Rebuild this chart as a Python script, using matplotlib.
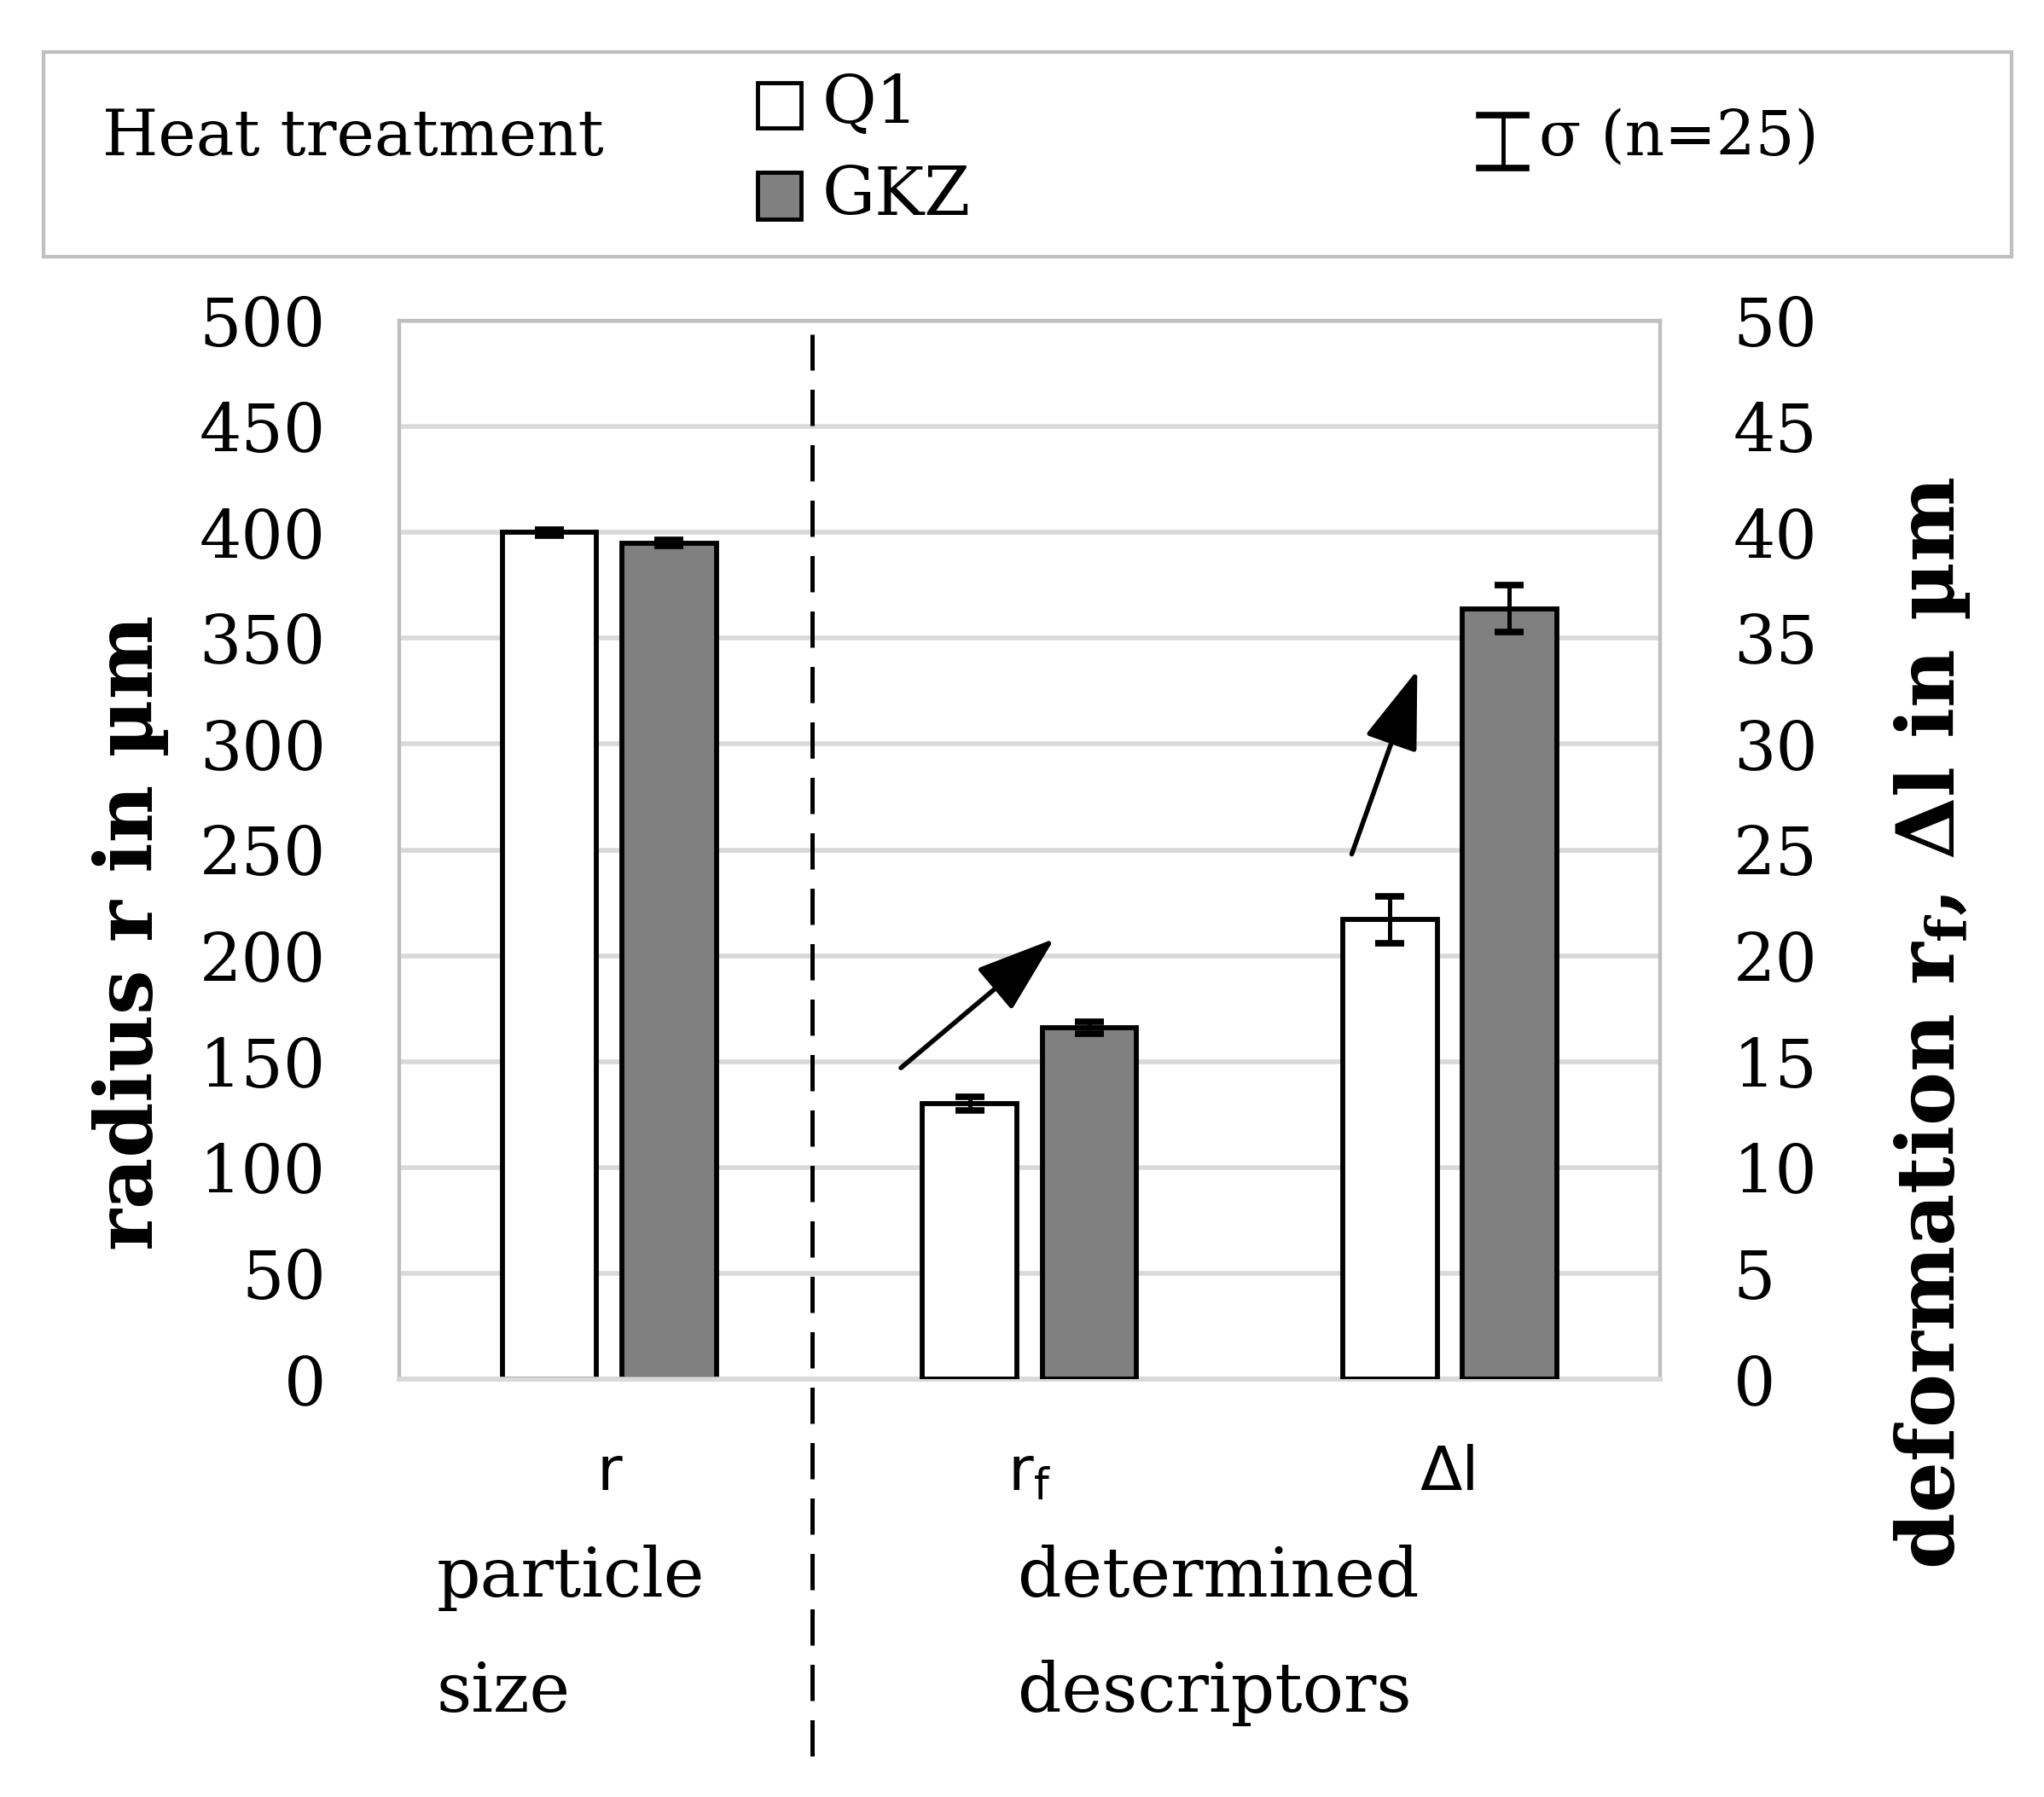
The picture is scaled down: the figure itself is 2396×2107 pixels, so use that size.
import matplotlib
matplotlib.use("Agg")
import matplotlib.pyplot as plt
from matplotlib.lines import Line2D
from matplotlib.patches import Rectangle

# values (in µm)
categories = ["r", "r$_\\mathregular{f}$", "Δl"]
series = ["Q1", "GKZ"]

# particle radius r -> left axis
r_q1, r_q1_err = 400.0, 1.5
r_gkz, r_gkz_err = 395.0, 1.5

# deformation descriptors r_f, Δl -> right axis
def_q1 = [13.0, 21.7]
def_q1_err = [0.32, 1.1]
def_gkz = [16.6, 36.4]
def_gkz_err = [0.28, 1.1]

left_ticks = list(range(0, 501, 50))
right_ticks = list(range(0, 51, 5))

SERIF = ["DejaVu Serif"]
SANS = ["DejaVu Sans"]

fig = plt.figure(figsize=(23.96, 21.07), dpi=100)
ax = fig.add_axes([0.1953, 0.2326, 0.6167, 0.5889])
ax2 = ax.twinx()

width = 0.225
off = 0.1425
x_pos = [0, 1, 2]

bar_kw = dict(edgecolor="black", linewidth=4.2, zorder=3)
err_kw = dict(fmt="none", ecolor="black", elinewidth=3.6, capsize=12.5, capthick=5.5, zorder=4)

# r on the left axis
ax.bar(x_pos[0] - off, r_q1, width, color="white", **bar_kw)
ax.bar(x_pos[0] + off, r_gkz, width, color="#808080", **bar_kw)
ax.errorbar(x_pos[0] - off, r_q1, yerr=r_q1_err, **err_kw)
ax.errorbar(x_pos[0] + off, r_gkz, yerr=r_gkz_err, **err_kw)

# r_f and Δl on the right axis
xs = x_pos[1:]
ax2.bar([x - off for x in xs], def_q1, width, color="white", **bar_kw)
ax2.bar([x + off for x in xs], def_gkz, width, color="#808080", **bar_kw)
ax2.errorbar([x - off for x in xs], def_q1, yerr=def_q1_err, **err_kw)
ax2.errorbar([x + off for x in xs], def_gkz, yerr=def_gkz_err, **err_kw)

ax.set_xlim(-0.5, 2.5)
ax.set_ylim(0, 500)
ax2.set_ylim(0, 50)
ax.set_yticks(left_ticks)
ax2.set_yticks(right_ticks)
ax.set_yticklabels([str(t) for t in left_ticks], fontfamily=SERIF, fontsize=56)
ax2.set_yticklabels([str(t) for t in right_ticks], fontfamily=SERIF, fontsize=56)
ax.set_xticks(x_pos)
ax.set_xticklabels(categories, fontfamily=SANS, fontsize=52)
ax.tick_params(axis="both", length=0)
ax2.tick_params(axis="both", length=0)
ax.tick_params(axis="y", pad=62)
ax2.tick_params(axis="y", pad=62)
ax.tick_params(axis="x", pad=55)

ax.grid(axis="y", color="#d9d9d9", linewidth=4, zorder=0)
ax.set_axisbelow(True)
for a in (ax, ax2):
    for s in a.spines.values():
        s.set_color("#bfbfbf")
        s.set_linewidth(3)
    a.spines["bottom"].set_color("#d9d9d9")
    a.spines["bottom"].set_linewidth(4)

# trend arrows
arrow_kw = dict(arrowstyle="-|>,head_length=0.58,head_width=0.2", mutation_scale=100,
                color="black", lw=4, shrinkA=0, shrinkB=0)
ax.annotate("", xy=(1.059, 208), xytext=(0.694, 147), arrowprops=arrow_kw, zorder=5)
ax.annotate("", xy=(1.923, 335), xytext=(1.767, 248), arrowprops=arrow_kw, zorder=5)

# dashed separator
fig.add_artist(Line2D([0.3974, 0.3974], [0.023, 0.814], color="black", lw=3.6,
                      dashes=(8.5, 4.5)))

# axis titles
fig.text(0.064, 0.481, "radius r in µm", rotation=90, ha="center", va="center",
         fontfamily=SERIF, fontsize=67, fontweight="bold")
fig.text(0.9455, 0.431, "deformation r$_\\mathregular{f}$, Δl in µm", rotation=90,
         ha="center", va="center", fontfamily=SERIF, fontsize=68, fontweight="bold")

# group labels
fig.text(0.2135, 0.122, "particle", ha="left", va="center", fontfamily=SERIF, fontsize=58)
fig.text(0.2135, 0.058, "size", ha="left", va="center", fontfamily=SERIF, fontsize=58)
fig.text(0.498, 0.122, "determined", ha="left", va="center", fontfamily=SERIF, fontsize=58)
fig.text(0.498, 0.058, "descriptors", ha="left", va="center", fontfamily=SERIF, fontsize=58)

# legend box
fig.add_artist(Rectangle((0.0213, 0.857), 0.9627, 0.114, transform=fig.transFigure,
                         facecolor="white", edgecolor="#bfbfbf", lw=3))
fig.text(0.05, 0.9235, "Heat treatment", ha="left", va="center", fontfamily=SERIF, fontsize=54)
fig.add_artist(Rectangle((0.3705, 0.929), 0.0212, 0.025, transform=fig.transFigure,
                         facecolor="white", edgecolor="black", lw=3.5))
fig.add_artist(Rectangle((0.3705, 0.878), 0.0212, 0.026, transform=fig.transFigure,
                         facecolor="#808080", edgecolor="black", lw=3.5))
fig.text(0.402, 0.9417, series[0], ha="left", va="center", fontfamily=SERIF, fontsize=56)
fig.text(0.402, 0.8907, series[1], ha="left", va="center", fontfamily=SERIF, fontsize=56)
fig.add_artist(Line2D([0.7353, 0.7353], [0.9067, 0.936], color="black", lw=3.5))
fig.add_artist(Line2D([0.7238, 0.7468], [0.936, 0.936], color="black", lw=5.5))
fig.add_artist(Line2D([0.7238, 0.7468], [0.9067, 0.9067], color="black", lw=5.5))
fig.text(0.753, 0.9235, "σ (n=25)", ha="left", va="center", fontfamily=SERIF, fontsize=52)

fig.savefig("out.png", dpi=100)
